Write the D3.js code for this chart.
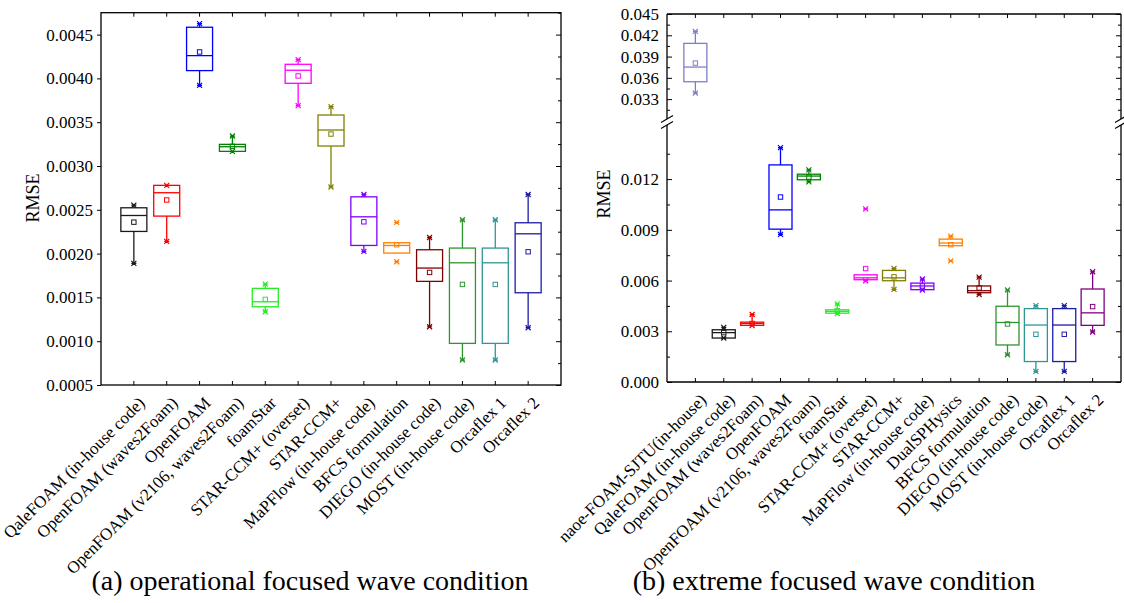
<!DOCTYPE html>
<html>
<head>
<meta charset="UTF-8">
<title>RMSE box plots</title>
<script src="https://d3js.org/d3.v7.min.js"></script>
<style>
  body { margin: 0; background: #fff; }
  svg { font-family: "Liberation Serif", "Times New Roman", serif; }
</style>
</head>
<body>
<svg id="chart" width="1124" height="603"></svg>
<script>
// (a) operational focused wave condition
const leftNames = ["QaleFOAM (in-house code)", "OpenFOAM (waves2Foam)", "OpenFOAM", "OpenFOAM (v2106, waves2Foam)",
  "foamStar", "STAR-CCM+ (overset)", "STAR-CCM+", "MaPFlow (in-house code)", "BFCS formulation",
  "DIEGO (in-house code)", "MOST (in-house code)", "Orcaflex 1", "Orcaflex 2"];
const leftQ1     = [0.002253, 0.002428, 0.004089, 0.003167, 0.001393, 0.003944, 0.003228, 0.002093, 0.002006, 0.001683, 0.000975, 0.000975, 0.001553];
const leftMedian = [0.002435, 0.002695, 0.004260, 0.003220, 0.001450, 0.004093, 0.003411, 0.002420, 0.002093, 0.001835, 0.001895, 0.001895, 0.002226];
const leftQ3     = [0.002523, 0.002779, 0.004584, 0.003247, 0.001603, 0.004161, 0.003582, 0.002648, 0.002124, 0.002044, 0.002063, 0.002063, 0.002352];
const leftMean   = [0.002359, 0.002612, 0.004302, 0.003224, 0.001477, 0.004028, 0.003365, 0.002363, 0.002101, 0.001785, 0.001648, 0.001648, 0.002021];
const leftMin    = [0.001888, 0.002139, 0.003921, 0.003167, 0.001336, 0.003689, 0.002760, 0.002025, 0.001907, 0.001165, 0.000785, 0.000785, 0.001154];
const leftMax    = [0.002553, 0.002779, 0.004626, 0.003342, 0.001652, 0.004214, 0.003677, 0.002675, 0.002356, 0.002184, 0.002386, 0.002386, 0.002675];
const leftWhiskerLo = [0.001888, 0.002139, 0.003921, 0.003167, 0.001336, 0.003689, 0.002760, 0.002025, 0.002006, 0.001165, 0.000785, 0.000785, 0.001154];
const leftWhiskerHi = [0.002553, 0.002779, 0.004626, 0.003342, 0.001652, 0.004214, 0.003677, 0.002675, 0.002124, 0.002184, 0.002386, 0.002386, 0.002675];
const leftTicks = [0.0005, 0.0010, 0.0015, 0.0020, 0.0025, 0.0030, 0.0035, 0.0040, 0.0045];

// (b) extreme focused wave condition
const rightNames = ["naoe-FOAM-SJTU(in-house)", "QaleFOAM (in-house code)", "OpenFOAM (waves2Foam)", "OpenFOAM",
  "OpenFOAM (v2106, waves2Foam)", "foamStar", "STAR-CCM+ (overset)", "STAR-CCM+", "MaPFlow (in-house code)",
  "DualSPHysics", "BFCS formulation", "DIEGO (in-house code)", "MOST (in-house code)", "Orcaflex 1", "Orcaflex 2"];
const rightQ1     = [0.03545, 0.00260, 0.00335, 0.00904, 0.01196, 0.00407, 0.00605, 0.00599, 0.00546, 0.00806, 0.00528, 0.00219, 0.00121, 0.00121, 0.00335];
const rightMedian = [0.03752, 0.00292, 0.00346, 0.01018, 0.01218, 0.00418, 0.00616, 0.00616, 0.00568, 0.00822, 0.00540, 0.00352, 0.00337, 0.00337, 0.00409];
const rightQ3     = [0.04086, 0.00309, 0.00354, 0.01284, 0.01229, 0.00427, 0.00634, 0.00660, 0.00585, 0.00845, 0.00568, 0.00448, 0.00434, 0.00434, 0.00550];
const rightMean   = [0.03808, 0.00292, 0.00346, 0.01094, 0.01212, 0.00421, 0.00671, 0.00622, 0.00568, 0.00812, 0.00556, 0.00343, 0.00282, 0.00282, 0.00446];
const rightMin    = [0.03385, 0.00260, 0.00333, 0.00873, 0.01184, 0.00405, 0.00599, 0.00548, 0.00544, 0.00716, 0.00517, 0.00161, 0.00063, 0.00063, 0.00296];
const rightMax    = [0.04255, 0.00323, 0.00399, 0.01386, 0.01255, 0.00462, 0.01024, 0.00671, 0.00609, 0.00863, 0.00620, 0.00544, 0.00452, 0.00452, 0.00652];
const rightWhiskerLo = [0.03385, 0.00260, 0.00333, 0.00873, 0.01184, 0.00405, 0.00599, 0.00548, 0.00544, 0.00806, 0.00517, 0.00161, 0.00063, 0.00063, 0.00296];
const rightWhiskerHi = [0.04255, 0.00323, 0.00399, 0.01386, 0.01255, 0.00462, 0.00634, 0.00671, 0.00609, 0.00863, 0.00620, 0.00544, 0.00452, 0.00452, 0.00652];
const rightTicksLow = [0.000, 0.003, 0.006, 0.009, 0.012];
const rightTicksUp  = [0.033, 0.036, 0.039, 0.042, 0.045];

// one colour per code, same in both panels
const colorOf = {
  "naoe-FOAM-SJTU(in-house)": "#7f7fc6",
  "QaleFOAM (in-house code)": "#1a1a1a",
  "OpenFOAM (waves2Foam)": "#ff0000",
  "OpenFOAM": "#0000ff",
  "OpenFOAM (v2106, waves2Foam)": "#008000",
  "foamStar": "#22ee22",
  "STAR-CCM+ (overset)": "#ff00ff",
  "STAR-CCM+": "#808000",
  "MaPFlow (in-house code)": "#8000ff",
  "DualSPHysics": "#ff8000",
  "BFCS formulation": "#ff8000",
  "DIEGO (in-house code)": "#800000",
  "MOST (in-house code)": "#2f962f",
  "Orcaflex 1": "#2f9696",
  "Orcaflex 2": "#1c1ca6"
};
const rightColorOf = Object.assign({}, colorOf, {
  "BFCS formulation": "#800000",
  "DIEGO (in-house code)": "#2f962f",
  "MOST (in-house code)": "#2f9696",
  "Orcaflex 1": "#1c1ca6",
  "Orcaflex 2": "#800080"
});

const svg = d3.select("#chart");

function drawBoxes(g, names, xs, yOf, q1, med, q3, mean, mn, mx, wlo, whi, colors, boxW) {
  names.forEach((name, i) => {
    const c = colors[name];
    const x = xs(i + 1);
    const b = g.append("g").attr("stroke", c).attr("fill", "none").attr("stroke-width", 1.3);
    // whiskers
    b.append("line").attr("x1", x).attr("x2", x).attr("y1", yOf(q3[i])).attr("y2", yOf(whi[i]));
    b.append("line").attr("x1", x).attr("x2", x).attr("y1", yOf(q1[i])).attr("y2", yOf(wlo[i]));
    // box
    b.append("rect").attr("x", x - boxW / 2).attr("width", boxW)
      .attr("y", yOf(q3[i])).attr("height", Math.max(yOf(q1[i]) - yOf(q3[i]), 1));
    b.append("line").attr("x1", x - boxW / 2).attr("x2", x + boxW / 2)
      .attr("y1", yOf(med[i])).attr("y2", yOf(med[i]));
    // mean
    b.append("rect").attr("x", x - 2.2).attr("y", yOf(mean[i]) - 2.2)
      .attr("width", 4.4).attr("height", 4.4).attr("stroke-width", 1);
    // 1% / 99% crosses
    [mn[i], mx[i]].forEach(v => {
      const y = yOf(v);
      b.append("path").attr("stroke-width", 1.2)
        .attr("d", `M${x - 2.5},${y - 2.5}L${x + 2.5},${y + 2.5}M${x - 2.5},${y + 2.5}L${x + 2.5},${y - 2.5}M${x - 2.5},${y}L${x + 2.5},${y}`);
    });
  });
}

function catLabels(g, names, xs, yAxis) {
  names.forEach((name, i) => {
    const x = xs(i + 1) + 12, y = yAxis + 19;
    g.append("text").attr("transform", `translate(${x},${y}) rotate(-45)`)
      .attr("text-anchor", "end").attr("font-size", 17).text(name);
  });
}

function catTicks(g, names, xs, yTop, yBot) {
  names.forEach((name, i) => {
    const x = xs(i + 1);
    g.append("line").attr("x1", x).attr("x2", x).attr("y1", yTop).attr("y2", yTop + 4).attr("stroke", "#000");
    g.append("line").attr("x1", x).attr("x2", x).attr("y1", yBot).attr("y2", yBot - 4).attr("stroke", "#000");
  });
}

// ---------- left panel ----------
const xL = d3.scaleLinear().domain([0, leftNames.length + 1]).range([101, 561]);
const yL = d3.scaleLinear().domain([0.0005, 0.00475]).range([385, 12.7]);
const gL = svg.append("g");

gL.append("g").attr("transform", "translate(101,0)")
  .call(d3.axisLeft(yL).tickValues(leftTicks).tickFormat(d3.format(".4f")).tickSizeInner(4).tickSizeOuter(0).tickPadding(4))
  .call(a => a.select(".domain").remove())
  .call(a => a.selectAll("text").attr("font-size", 17).attr("font-family", "Liberation Serif, serif"));
const leftMinor = leftTicks.map(d => d + 0.00025);
gL.append("g").attr("transform", "translate(561,0)")
  .call(d3.axisRight(yL).tickValues(leftTicks).tickFormat("").tickSizeInner(-5).tickSizeOuter(0))
  .call(a => a.select(".domain").remove());
gL.append("g").attr("transform", "translate(561,0)")
  .call(d3.axisRight(yL).tickValues(leftMinor).tickFormat("").tickSizeInner(-3).tickSizeOuter(0))
  .call(a => a.select(".domain").remove());
catTicks(gL, leftNames, xL, 12.7, 385);
gL.append("rect").attr("x", 101).attr("y", 12.7).attr("width", 460).attr("height", 385 - 12.7)
  .attr("fill", "none").attr("stroke", "#000").attr("stroke-width", 1.3);

drawBoxes(gL, leftNames, xL, yL, leftQ1, leftMedian, leftQ3, leftMean, leftMin, leftMax,
  leftWhiskerLo, leftWhiskerHi, colorOf, 26);
catLabels(gL, leftNames, xL, 385);

gL.append("text").attr("transform", "translate(39,198) rotate(-90)").attr("text-anchor", "middle")
  .attr("font-size", 18).text("RMSE");
gL.append("text").attr("x", 310).attr("y", 590).attr("text-anchor", "middle")
  .attr("font-size", 28).text("(a) operational focused wave condition");

// ---------- right panel (broken axis) ----------
const xR = d3.scaleLinear().domain([0, rightNames.length + 1]).range([667, 1121]);
const yLow = d3.scaleLinear().domain([0, 0.0152]).range([382, 125]);
const yUp = d3.scaleLinear().domain([0.0302, 0.045]).range([119, 14]);
const yR = v => v > 0.0200 ? yUp(v) : yLow(v);
const gR = svg.append("g");

function rightAxisPair(scale, ticks, fmt) {
  const minor = ticks.map(d => d + 0.0015).filter(d => d >= scale.domain()[0] && d <= scale.domain()[1])
    .concat(ticks.map(d => d - 0.0015).filter(d => d >= scale.domain()[0] && d < ticks[0]));
  gR.append("g").attr("transform", "translate(667,0)")
    .call(d3.axisLeft(scale).tickValues(ticks).tickFormat(fmt).tickSizeInner(-5).tickSizeOuter(0).tickPadding(8))
    .call(a => a.select(".domain").remove())
    .call(a => a.selectAll("text").attr("font-size", 17).attr("font-family", "Liberation Serif, serif"));
  gR.append("g").attr("transform", "translate(667,0)")
    .call(d3.axisLeft(scale).tickValues(minor).tickFormat("").tickSizeInner(-3).tickSizeOuter(0))
    .call(a => a.select(".domain").remove());
  gR.append("g").attr("transform", "translate(1121,0)")
    .call(d3.axisRight(scale).tickValues(ticks).tickFormat("").tickSizeInner(-5).tickSizeOuter(0))
    .call(a => a.select(".domain").remove());
  gR.append("g").attr("transform", "translate(1121,0)")
    .call(d3.axisRight(scale).tickValues(minor).tickFormat("").tickSizeInner(-3).tickSizeOuter(0))
    .call(a => a.select(".domain").remove());
}
rightAxisPair(yLow, rightTicksLow, d3.format(".3f"));
rightAxisPair(yUp, rightTicksUp, d3.format(".3f"));
catTicks(gR, rightNames, xR, 14, 382);

// frame with gaps at the break
const frame = gR.append("g").attr("stroke", "#000").attr("stroke-width", 1.3).attr("fill", "none");
frame.append("line").attr("x1", 667).attr("x2", 1121).attr("y1", 14).attr("y2", 14);
frame.append("line").attr("x1", 667).attr("x2", 1121).attr("y1", 382).attr("y2", 382);
[667, 1121].forEach(x => {
  frame.append("line").attr("x1", x).attr("x2", x).attr("y1", 14).attr("y2", yUp.range()[0]);
  frame.append("line").attr("x1", x).attr("x2", x).attr("y1", yLow.range()[1]).attr("y2", 382);
  [yUp.range()[0], yLow.range()[1]].forEach(y => {
    frame.append("line").attr("stroke-width", 1.1)
      .attr("x1", x - 6).attr("y1", y + 3.5).attr("x2", x + 6).attr("y2", y - 3.5);
  });
});

drawBoxes(gR, rightNames, xR, yR, rightQ1, rightMedian, rightQ3, rightMean, rightMin, rightMax,
  rightWhiskerLo, rightWhiskerHi, rightColorOf, 23);
catLabels(gR, rightNames, xR, 382);

gR.append("text").attr("transform", "translate(610,194) rotate(-90)").attr("text-anchor", "middle")
  .attr("font-size", 18).text("RMSE");
gR.append("text").attr("x", 834).attr("y", 590).attr("text-anchor", "middle")
  .attr("font-size", 28).text("(b) extreme focused wave condition");
</script>
</body>
</html>
